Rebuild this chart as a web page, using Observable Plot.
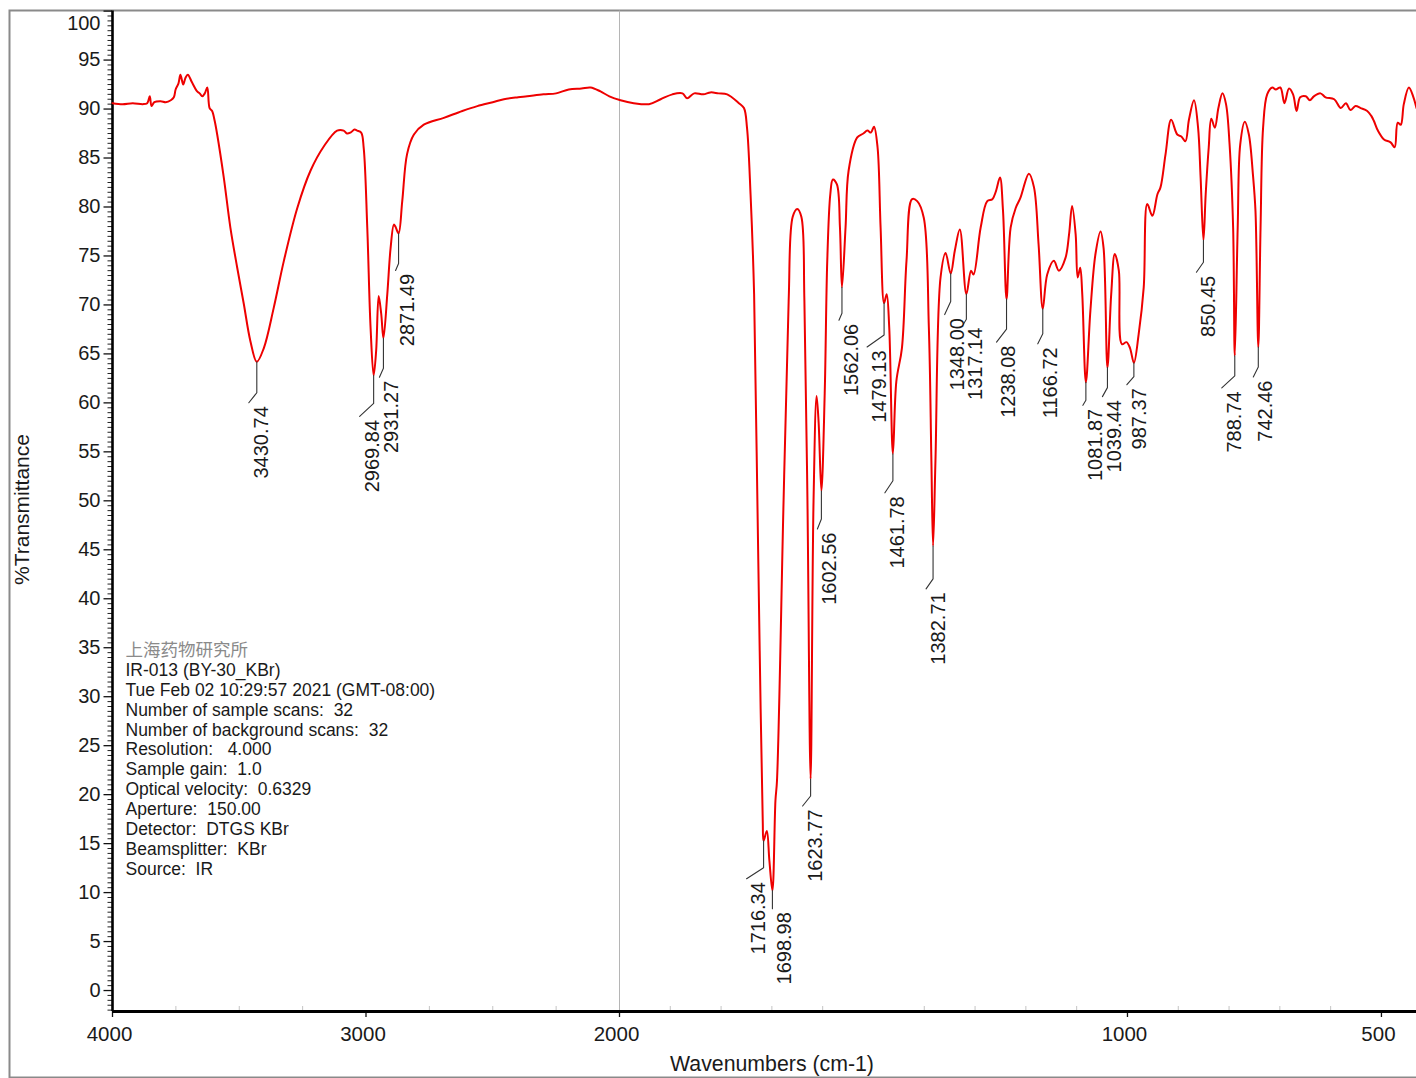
<!DOCTYPE html>
<html><head><meta charset="utf-8">
<script src="https://cdn.jsdelivr.net/npm/d3@7"></script>
<script src="https://cdn.jsdelivr.net/npm/@observablehq/plot@0.6"></script>
<style>
html,body{margin:0;padding:0;background:#fff;overflow:hidden;}
svg text{white-space:pre;}
</style></head><body><div id="chart"></div>
<script>
// ---------- data ----------
const wavenumbers = [
4000,3960,3920,3880,3863,3853,3846,3835,3810,3790,3770,3758,3751,3740,3732,3721,3712,3703,3686,3666,3656,3646,3636,3626,3617,3607,3597,3587,3561,3535,3508,3482,3456,3430.74,3403,3364,3324,3271,3219,3166,3114,3088,3075,3061,3045,3035,3019,3009,2995,2982,2969.84,2960,2950,2940,2931.27,2916,2903,2890,2884,2871.49,2857,2838,2811,2772,2693,2620,2561,2500,2456,2400,2364,2300,2250,2200,2150,2114,2075,2040,1998,1972,1942,1919,1896,1876,1867,1853,1835,1821,1805,1788,1765,1755,1749,1742,1735,1730,1724,1718,1716.34,1710,1705,1698.98,1693,1690,1677,1667,1659,1650,1642,1636,1630,1623.77,1618,1612,1608,1602.56,1596,1591,1585,1580,1572,1566,1562.06,1555,1549,1532,1520,1512,1505,1499,1492,1486,1479.13,1474,1469,1461.78,1455,1444,1435,1424,1414,1401,1391,1386,1382.71,1378,1368,1358,1348.00,1340,1330,1317.14,1308,1303,1289,1276,1266,1259,1251,1245,1238.08,1230,1220,1211,1194,1184,1175,1166.72,1158,1145,1135,1122,1115,1109,1102,1098,1093,1089,1081.87,1073,1063,1053,1047,1039.44,1032,1025,1017,1011,1002,995,987.37,978,968,961,951,941,935,925,914,902,894,886,879,869,861,856,850.45,846,840,835,828,821,813,806,799,792,788.74,783,778,769,761,753,748,742.46,738,733,725,715,708,699,691,682,674,667,660,649,641,633,620,610,593,580,570,561,551,541,528,520,515,507,495,482,474,468,462,456,446,437,431];
const transmittance = [
90.6,90.5,90.6,90.5,90.6,91.3,90.3,90.7,90.8,90.7,90.9,91.2,92.0,92.6,93.5,92.5,93.2,93.5,92.7,91.8,91.6,91.3,91.6,92.2,90.1,89.8,88.8,87.4,83.0,77.9,73.8,70.1,66.3,64.2,65.6,69.7,74.5,79.9,83.7,86.2,87.8,87.8,87.5,87.6,87.9,87.8,87.6,86.0,77.9,67.7,62.8,65.3,70.9,69.1,66.6,71.1,75.8,78.2,78.0,77.3,80.6,85.4,87.4,88.4,89.1,89.8,90.3,90.7,91.0,91.2,91.3,91.5,91.6,92.0,92.1,92.2,91.8,91.3,90.9,90.6,90.5,91.0,91.5,91.6,91.1,91.6,91.5,91.7,91.6,91.5,90.6,90.1,88.1,81.3,71.1,55.0,34.7,17.3,15.3,16.3,13.3,10.2,19.4,21.4,50.0,70.4,79.0,79.8,79.0,70.4,50.0,21.6,50.0,60.7,58.0,51.0,61.0,74.5,81.3,82.8,82.3,77.9,71.8,77.9,83.7,87.1,87.5,87.8,87.6,88.2,86.1,77.9,70.2,71.1,67.7,54.8,62.2,65.6,74.5,80.8,80.6,78.9,67.7,54.1,45.4,54.1,72.8,75.3,73.2,75.5,77.7,71.1,73.5,73.1,77.9,80.6,80.8,81.6,83.0,79.6,70.6,77.9,79.9,80.9,83.4,82.0,76.2,69.6,73.1,74.5,73.5,74.8,77.2,80.1,77.2,72.8,73.8,71.1,62.1,69.4,75.2,77.5,75.8,63.6,71.1,75.2,73.5,66.0,66.2,65.6,64.1,67.0,71.8,80.3,79.1,81.3,82.0,85.4,88.9,87.4,87.2,86.7,88.9,90.9,88.1,83.0,76.6,81.3,86.1,89.0,88.1,90.1,91.6,90.5,86.4,77.9,64.8,77.9,86.4,88.7,87.4,83.3,79.6,65.7,77.9,88.1,91.5,92.2,92.0,92.2,90.6,92.1,91.5,89.8,91.2,91.3,90.9,91.3,91.6,91.2,91.0,90.1,90.6,89.9,90.3,90.1,89.8,89.3,88.8,87.8,86.9,86.6,86.1,88.6,88.4,90.5,92.2,91.2,90.1];

const peakWavenumbers = [3430.74,2969.84,2931.27,2871.49,1716.34,1698.98,1623.77,1602.56,1562.06,1479.13,1461.78,1382.71,1348.00,1317.14,1238.08,1166.72,1081.87,1039.44,987.37,850.45,788.74,742.46];
const peakTransmittance = [64.2,62.8,66.6,77.3,15.3,10.2,21.6,51.0,71.8,70.2,54.8,45.4,73.2,71.1,70.6,69.6,62.1,63.6,64.1,76.6,64.8,65.7];

const xTickValues = [4000,3000,2000,1000,500];
const xMinorTicks = [3750,3500,3250,2750,2500,2250,1900,1800,1700,1600,1400,1300,1200,1100,900,800,700,600];
const yTickValues = [0,5,10,15,20,25,30,35,40,45,50,55,60,65,70,75,80,85,90,95,100];

const infoTitle = "上海药物研究所";
const infoLines = [
"IR-013 (BY-30_KBr)",
"Tue Feb 02 10:29:57 2021 (GMT-08:00)",
"Number of sample scans:  32",
"Number of background scans:  32",
"Resolution:   4.000",
"Sample gain:  1.0",
"Optical velocity:  0.6329",
"Aperture:  150.00",
"Detector:  DTGS KBr",
"Beamsplitter:  KBr",
"Source:  IR"];

// ---------- layout (pixels) ----------
const W = 1416, H = 1078;
const leaderKnee = [31,28,30,30,27,16,17,28,26,32,27,33,28,25,30,25,18,20,14,22,20,20];
const leaderDx   = [-8,-14,-4,-3,-17,0,-8,-4,-3,-17,-8,-7,-6,-3,-10,-5,-3,-5,-7,-7,-13,-5];
const leaderDy   = [10,13,9,7,11,2,10,10,7,12,12,10,13,5,13,10,5,9,8,10,12,10];

const xOpts = {type: "linear", domain: [4000, 2000, 431], range: [112, 619, 1416]};
const yOpts = {type: "linear", domain: [-2.14, 100], range: [1011, 10.6]};
const xs = Plot.scale({x: xOpts});
const ys = Plot.scale({y: yOpts});
const yMin = yOpts.domain[0], yMax = yOpts.domain[1];
const xMax = xOpts.domain[0], xEnd = xOpts.domain[2];

const spectrum = wavenumbers.map((w, i) => ({w, t: transmittance[i]}));

const leaderPts = [];
const peakLabels = peakWavenumbers.map((wn, i) => {
  const x0 = xs.apply(wn), y0 = ys.apply(peakTransmittance[i]);
  const y1 = y0 + leaderKnee[i];
  const x2 = x0 + leaderDx[i], y2 = y1 + leaderDy[i];
  leaderPts.push({id: i, x: wn, y: peakTransmittance[i]});
  leaderPts.push({id: i, x: wn, y: ys.invert(y1)});
  leaderPts.push({id: i, x: xs.invert(x2), y: ys.invert(y2)});
  return {label: wn.toFixed(2), x: xs.invert(x2 + 12.5), y: ys.invert(y2 + 3.5)};
});

const yMinor = [];
for (let v = -2; v < 100; v += 0.5) if (v % 5 !== 0) yMinor.push(v);

const font = "Liberation Sans, Arial, Helvetica, sans-serif";
const ink = "#1a1a1a";

const chart = Plot.plot({
  width: W, height: H,
  marginLeft: 9, marginTop: 10, marginRight: -10, marginBottom: 1,
  x: {...xOpts, axis: null},
  y: {...yOpts, axis: null},
  style: {fontFamily: font, background: "white", color: ink},
  marks: [
    Plot.frame({stroke: "#8a8a8a", strokeWidth: 2}),
    Plot.ruleX([2000], {y1: () => yMin, y2: () => yMax, stroke: "#b5b5b5", strokeWidth: 1}),
    // minor ticks
    Plot.ruleY(yMinor, {y: d => d, x1: () => xMax, x2: () => xs.invert(xs.apply(xMax) - 4.5), stroke: "#222", strokeWidth: 1}),
    Plot.ruleY(yTickValues, {y: d => d, x1: () => xMax, x2: () => xs.invert(xs.apply(xMax) - 8.5), stroke: "#111", strokeWidth: 1.3}),
    Plot.ruleX(xMinorTicks, {x: d => d, y1: () => yMin, y2: () => ys.invert(ys.apply(yMin) - 5), stroke: "#c4c4c4", strokeWidth: 1}),
    Plot.ruleX(xTickValues, {x: d => d, y1: () => yMin, y2: () => ys.invert(ys.apply(yMin) + 6), stroke: "#111", strokeWidth: 1.3}),
    // axis lines
    Plot.ruleX([xMax], {y1: () => yMin, y2: () => yMax, stroke: "#000", strokeWidth: 2.6}),
    Plot.ruleY([yMin], {x1: () => xMax, x2: () => xEnd, stroke: "#000", strokeWidth: 3}),
    // spectrum
    Plot.line(spectrum, {x: "w", y: "t", stroke: "#ee0000", strokeWidth: 2, curve: "catmull-rom"}),
    // peak leaders and labels
    Plot.line(leaderPts, {x: "x", y: "y", z: "id", stroke: "#333", strokeWidth: 1.1}),
    Plot.text(peakLabels, {x: "x", y: "y", text: "label", rotate: -90, textAnchor: "end", fontSize: 20, fill: ink}),
    // tick labels
    Plot.text(yTickValues.filter(v => v < 100), {x: () => xs.invert(100), y: d => d, text: d => String(d), textAnchor: "end", fontSize: 20, fill: ink}),
    Plot.text([100], {x: () => xs.invert(100), y: () => ys.invert(23), text: d => String(d), textAnchor: "end", fontSize: 20, fill: ink}),
    Plot.text(xTickValues, {x: d => d, y: () => ys.invert(1034), text: d => String(d), dx: -3, fontSize: 20.5, fill: ink}),
    // axis titles
    Plot.text(["%Transmittance"], {x: () => xs.invert(22), y: () => ys.invert(509), text: d => d, rotate: -90, fontSize: 21, fill: ink}),
    Plot.text(["Wavenumbers (cm-1)"], {x: () => xs.invert(771.5), y: () => ys.invert(1064), text: d => d, fontSize: 21.3, fill: ink}),
    // info block
    Plot.text([infoTitle], {x: () => xs.invert(125), y: () => ys.invert(650), text: d => d, textAnchor: "start", fontFamily: "Noto Sans CJK SC", fontSize: 17.5, fill: "#8a8a8a"}),
    Plot.text([infoLines.join("\n")], {x: () => xs.invert(125), y: () => ys.invert(661), text: d => d, textAnchor: "start", lineAnchor: "top", lineHeight: 1.14, fontSize: 17.5, fill: ink})
  ]
});
document.getElementById("chart").appendChild(chart);
</script>
</body></html>
